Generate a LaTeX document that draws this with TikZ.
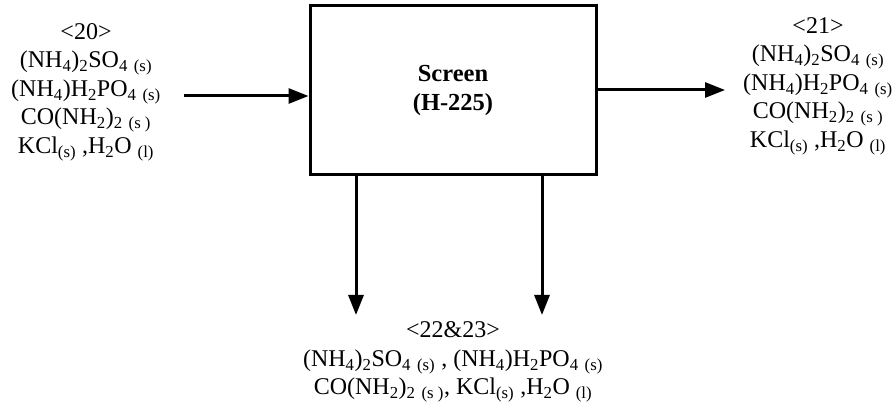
\documentclass[tikz,border=0pt]{standalone}
\usepackage{fontspec}
\setmainfont{Liberation Serif}
\usepackage{tikz}
\usetikzlibrary{arrows.meta}

\newcommand{\sbs}[1]{\textsubscript{#1}}
\newcommand{\stt}[1]{\textsubscript{(#1)}}

\begin{document}
\begin{tikzpicture}[x=1pt,y=-1pt,->,>={Triangle[length=20pt,width=15pt]},line width=3pt]
    \tikzstyle{unit}=[rectangle,draw,line width=3pt,minimum width=286pt,minimum height=169pt,inner sep=0pt,align=center,font=\fontsize{24.5}{29}\selectfont\bfseries]
    \tikzstyle{stream}=[align=center,inner sep=0pt,font=\fontsize{24}{28.5}\selectfont]

    \useasboundingbox (0,0) rectangle (894,403);

    \node[unit] (screen) at (453,90.5) {Screen\\(H-225)};

    \node[stream] (s20) at (86,92)  {<20>\\(NH\sbs{4})\sbs{2}SO\sbs{4} \stt{s}\\(NH\sbs{4})H\sbs{2}PO\sbs{4} \stt{s}\\CO(NH\sbs{2})\sbs{2} \stt{s\ }\\KCl\stt{s} ,H\sbs{2}O \stt{l}};
    \node[stream] (s21) at (818,86) {<21>\\(NH\sbs{4})\sbs{2}SO\sbs{4} \stt{s}\\(NH\sbs{4})H\sbs{2}PO\sbs{4} \stt{s}\\CO(NH\sbs{2})\sbs{2} \stt{s\ }\\KCl\stt{s} ,H\sbs{2}O \stt{l}};
    \node[stream] (s22) at (453,362) {<22\&23>\\(NH\sbs{4})\sbs{2}SO\sbs{4} \stt{s} , (NH\sbs{4})H\sbs{2}PO\sbs{4} \stt{s}\\CO(NH\sbs{2})\sbs{2} \stt{s\ }, KCl\stt{s} ,H\sbs{2}O \stt{l}};

    \coordinate (a20) at (184,96);
    \coordinate (a21) at (725,90);
    \coordinate (a22) at (356,315);
    \coordinate (a23) at (542,315);

    \draw (a20) -- (a20 -| screen.west);
    \draw (a21 -| screen.east) -- (a21);
    \foreach \c in {a22,a23} {
        \draw (\c |- screen.south) -- (\c);
    }
\end{tikzpicture}
\end{document}
